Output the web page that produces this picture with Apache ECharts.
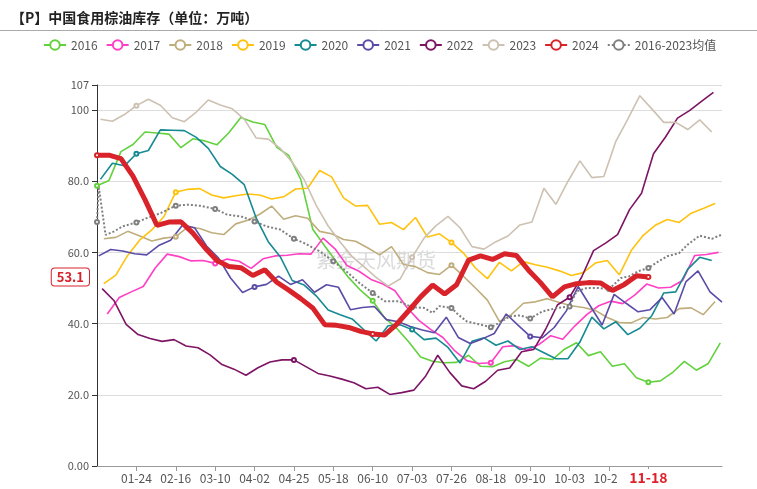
<!DOCTYPE html>
<html>
<head>
<meta charset="UTF-8">
<title>中国食用棕油库存</title>
<style>
    html, body { margin: 0; padding: 0; background: #fff; }
    #chart { width: 757px; height: 489px; }
</style>
</head>
<body>
<div id="chart"></div>
<script src="https://cdn.jsdelivr.net/npm/echarts@6/dist/echarts.min.js"></script>
<script>
    // x categories: every day of a leap year, MM-DD
    var monthLen = [31, 29, 31, 30, 31, 30, 31, 31, 30, 31, 30, 31];
    var days = [];
    for (var m = 0; m < 12; m++) {
        for (var d = 1; d <= monthLen[m]; d++) {
            days.push((m < 9 ? '0' : '') + (m + 1) + '-' + (d < 10 ? '0' : '') + d);
        }
    }
    var lastDate = '11-18';
    var lastValue = 53.1;

    // weekly stocks, first day index of each year
    var start2016 = 0;
    var s2016 = [78.7,80.2,88.3,90.3,93.8,93.5,93.2,89.4,91.9,91.3,90.2,93.6,97.9,96.6,95.9,89.5,87.2,80.5,66.5,61.8,57.2,52.9,49.3,46.4,41.6,38.7,34.9,30.6,29.4,29,29.1,31.1,28,27.9,29.3,29.9,28,30.3,29.9,32.8,34.6,31,32.1,28,28.7,24.8,23.5,23.9,26.2,29.4,26.9,28.8,34.6];
    var start2017 = 6;
    var s2017 = [42.7,47.3,48.9,50.4,55.6,59.5,58.8,57.6,57.7,56.9,58.1,57.5,55.5,58.2,59,59.2,59.6,59.5,64,61,56.3,54.7,52.4,51.1,49.2,44.5,40.9,38.3,36.1,32.3,29.6,28.8,29,33.5,33.8,32.5,34.1,36.6,35.6,39.3,42.5,45,46.3,45.6,48,51.1,50,50.2,52.1,59.1,59.4,60];
    var start2018 = 4;
    var s2018 = [63.8,64.2,65.9,64.6,63.2,64,64.4,67.1,66.7,65.5,65,68,69,70.7,73,69.3,70.3,69.6,65.9,65.2,63.6,63.1,61.3,59.3,61.6,56.6,56,54.3,53.8,56.4,53.3,50,46.6,40.6,42.5,45.7,46.1,47,45.9,45,44.5,43.7,41.7,40.3,40.2,41.7,41.3,41.7,44.2,44.4,42.5,46.2];
    var start2019 = 4;
    var s2019 = [51.2,53.6,59.2,63.5,66.3,70,76.9,77.7,77.9,76.1,75.3,75.9,76.4,76.1,75,75.6,77.8,78,83,81.2,75.3,73,73.2,67.9,68.4,66.4,69.8,64.3,65.2,62.8,59.8,55.6,52.6,57.2,54.8,57.4,56.5,55.8,54.8,53.5,54.3,57,57.7,53.7,60.5,64.8,67.6,69.2,68.4,71,72.3,73.7];
    var start2020 = 2;
    var s2020 = [80.5,85,84.3,87.7,88.6,94.4,94.3,94.2,92.3,89.2,84.1,81.9,79,69.6,63,58.8,52.1,50.8,47.8,43.8,42.5,41.3,38.2,35.1,39.4,39.7,38.3,35.5,35.9,33.3,28.9,35,36,33.9,35.1,32.7,33.5,31.8,30.1,30.1,34.8,41.8,38.5,40.5,36.9,38.7,42.2,48.6,48.9,55.3,58.6,57.7];
    var start2021 = 1;
    var s2021 = [59,60.8,60.4,59.6,59.3,61.9,63.4,67.7,66.9,61.8,58.4,52.8,48.7,50.3,51,53.3,51,52.3,48.8,50.9,50.2,43.9,44.5,44.8,41.1,40.5,39.2,38.2,37.4,41.8,36.1,34.4,35.7,37.2,42.7,39.5,36.4,36,38.9,43.5,50.4,45,39.6,48.2,45.7,43.3,43.9,47.3,42.7,51.8,54.8,48.9,46];
    var start2022 = 3;
    var s2022 = [49.8,46.4,39.8,36.9,35.8,35,35.5,33.7,33.2,31.2,28.5,27.2,25.5,27.6,29.2,29.8,29.8,27.9,26,25.3,24.4,23.4,21.7,22.1,20.1,20.6,21.3,25.3,31.1,26.3,22.5,21.7,23.8,26.9,27.5,32.1,32.7,38.4,45.3,47.4,53,60.5,62.6,65,72,76.6,87.7,92.4,97.7,99.8,102.4,104.9];
    var start2023 = 2;
    var s2023 = [97.4,96.8,98.7,101.2,103,101.3,97.8,96.7,99.4,102.8,101.4,100.3,97.4,92.1,91.8,89.2,85.3,80.4,73.2,67.4,62.9,58.8,55.9,53,50.5,52.5,58.6,64,67.5,70.1,66.9,61.6,60.9,63,64.6,67.7,68.5,78,73.5,79.9,85.7,81,81.3,91.2,97.4,104,100.3,96.5,96.5,94.5,97.2,93.8];
    var start2024 = 0;
    var s2024 = [87.3,87.3,86.3,81.4,74.8,67.6,68.5,68.6,65.4,61.3,57.7,56,55.7,53.5,55.1,51.6,49.4,47,44.4,39.7,39.5,38.9,37.8,37.1,36.8,39.8,43.6,47.5,50.8,48.3,50.9,57.8,59,58,59.6,59.1,55,51.5,47.5,50.3,51.2,51.5,51.4,49.3,51,53.4,53.1];

    // 2016-2023 average (day index, value)
    var avgDays = [0,1,5,10,15,23,29,37,46,53,60,69,76,84,92,99,107,115,121,130,138,146,153,161,168,176,184,191,196,200,207,211,216,224,230,235,241,247,253,260,269,276,280,286,293,299,306,311,316,322,328,333,340,345,352,359,365];
    var avgValues = [68.5,78.5,64.9,65.9,67.3,68.4,69.6,71,73.1,73.4,73.1,72.2,70.6,70.1,68.7,67.3,66.4,63.8,62.6,60.3,57.5,54.5,51.5,48.6,46.3,46.3,44.6,44.4,43,44.9,44.4,42.5,40.6,39.7,39,40.2,42,42.3,41.4,43.4,44.4,44.8,49,50,50,49.7,52.8,53.3,54.7,55.6,57.5,58.9,59.8,62.2,64.7,63.8,65];

    function weekly(first, values) {
        return values.map(function (v, k) { return [days[first + 7 * k], v]; });
    }
    function line(name, color, data, extra) {
        var s = {
            name: name,
            type: 'line',
            data: data,
            symbol: 'emptyCircle',
            symbolSize: 4,
            itemStyle: { color: color },
            lineStyle: { color: color, width: 1.6 },
            emphasis: { disabled: true }
        };
        for (var k in extra) s[k] = extra[k];
        return s;
    }

    var series = [
        line('2016', '#63d13e', weekly(start2016, s2016)),
        line('2017', '#ff3fc4', weekly(start2017, s2017)),
        line('2018', '#bfad7c', weekly(start2018, s2018)),
        line('2019', '#ffc20e', weekly(start2019, s2019)),
        line('2020', '#168a92', weekly(start2020, s2020)),
        line('2021', '#5a4ca6', weekly(start2021, s2021)),
        line('2022', '#7e1464', weekly(start2022, s2022)),
        line('2023', '#cdc1b2', weekly(start2023, s2023)),
        line('2024', '#d8232a', weekly(start2024, s2024), {
            z: 5,
            lineStyle: { color: '#d8232a', width: 5 }
        }),
        line('2016-2023均值', '#7f7f7f', avgDays.map(function (d, i) { return [days[d], avgValues[i]]; }), {
            lineStyle: { color: '#7f7f7f', width: 2, type: 'dotted' }
        })
    ];

    var chart = echarts.init(document.getElementById('chart'));
    chart.setOption({
        animation: false,
        textStyle: { fontFamily: 'Noto Sans CJK SC, sans-serif' },
        title: {
            text: '【P】中国食用棕油库存（单位：万吨）',
            left: 6,
            top: 6,
            textStyle: { fontSize: 14, fontWeight: 'bold', color: '#222' }
        },
        legend: {
            top: 34,
            left: 38,
            itemWidth: 22,
            itemHeight: 12,
            itemGap: 8,
            textStyle: { fontSize: 12, color: '#555' }
        },
        graphic: [
            { type: 'line', shape: { x1: 0, y1: 30.5, x2: 757, y2: 30.5 }, style: { stroke: '#aaa', lineWidth: 1 } },
            { type: 'text', left: 316, top: 250, z: 0, style: { text: '紫金天风期货', fill: 'rgba(150,150,150,0.35)', font: '20px "Noto Sans CJK SC"' } }
        ],
        grid: { left: 97, right: 35, top: 85, bottom: 23 },
        xAxis: {
            type: 'category',
            data: days,
            boundaryGap: false,
            axisLine: { lineStyle: { color: '#999' } },
            axisTick: {
                interval: function (i) { return i > 0 && i % 23 === 0 && i <= 322; },
                lineStyle: { color: '#999' }
            },
            axisLabel: {
                interval: function (i) { return i % 23 === 0 && i <= 322; },
                formatter: function (v, i) { return i === 0 ? '' : v; },
                color: '#555',
                fontSize: 12,
                margin: 6
            },
            splitLine: { show: false },
            axisPointer: {
                show: true,
                value: lastDate,
                status: 'show',
                triggerTooltip: false,
                lineStyle: { opacity: 0 },
                label: {
                    show: true,
                    color: '#e0202a',
                    fontWeight: 'bold',
                    fontSize: 14,
                    backgroundColor: '#fff',
                    padding: [2, 12, 2, 12],
                    margin: 3
                }
            }
        },
        yAxis: {
            type: 'value',
            min: 0,
            max: 107,
            interval: 20,
            axisLine: { show: true, lineStyle: { color: '#333' } },
            axisTick: { show: true, lineStyle: { color: '#333' } },
            axisLabel: {
                color: '#555',
                fontSize: 11,
                formatter: function (v) { return Number(v).toPrecision(3); }
            },
            splitLine: { lineStyle: { color: '#ddd' } },
            axisPointer: {
                show: true,
                value: lastValue,
                status: 'show',
                triggerTooltip: false,
                lineStyle: { opacity: 0 },
                label: {
                    show: true,
                    formatter: function (p) { return Number(p.value).toFixed(1); },
                    color: '#d8232a',
                    fontWeight: 'bold',
                    fontSize: 13,
                    backgroundColor: '#fff',
                    borderColor: '#d8232a',
                    borderWidth: 1,
                    padding: [2, 5, 2, 5],
                    margin: 8
                }
            }
        },
        series: series
    });
</script>
</body>
</html>
